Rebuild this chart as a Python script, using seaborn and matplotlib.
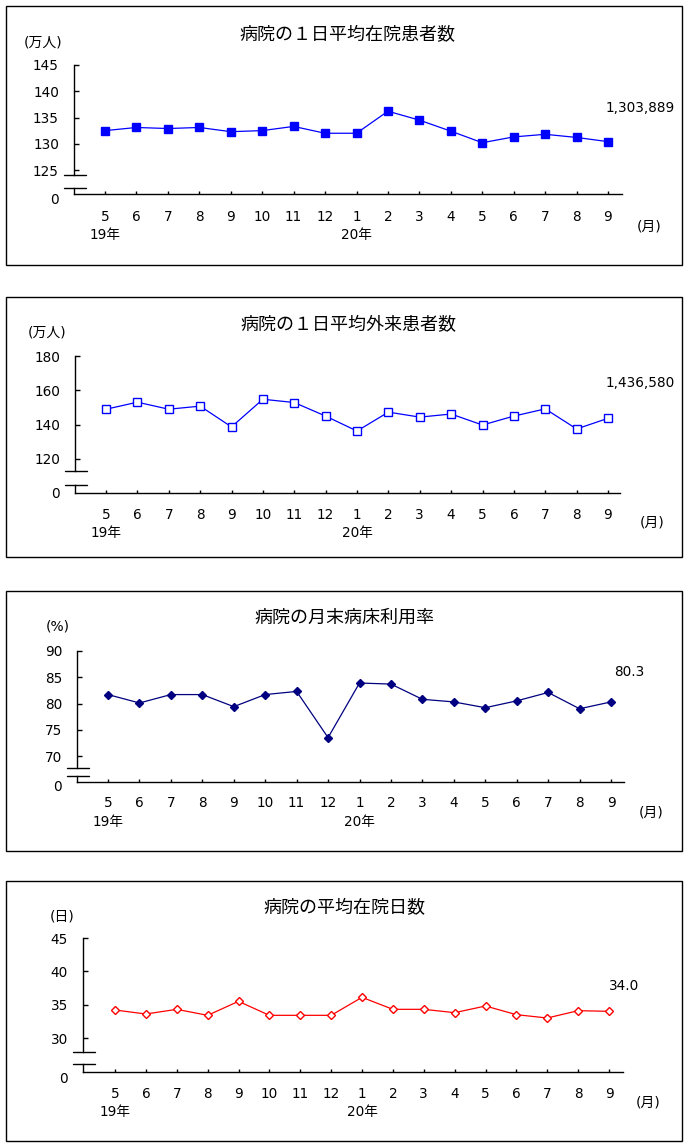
import numpy as np
import pandas as pd
import matplotlib
matplotlib.use("Agg")
import matplotlib.pyplot as plt
import matplotlib.transforms as mtrans
from matplotlib.patches import Rectangle
from matplotlib.lines import Line2D
import seaborn as sns

# ---------------- data ----------------
months = ["5", "6", "7", "8", "9", "10", "11", "12", "1", "2", "3", "4", "5", "6", "7", "8", "9"]
year_labels = ["19年", "20年"]
year_positions = [0, 8]

inpatients = [132.5, 133.1, 132.9, 133.1, 132.3, 132.5, 133.3, 132.0, 132.0,
              136.2, 134.5, 132.4, 130.2, 131.3, 131.8, 131.2, 130.4]
outpatients = [149.0, 153.1, 149.0, 150.8, 138.7, 154.8, 152.9, 145.0, 136.3,
               147.3, 144.4, 146.2, 139.8, 145.0, 149.2, 137.5, 143.7]
bed_rate = [81.7, 80.1, 81.7, 81.7, 79.4, 81.7, 82.3, 73.5, 83.9,
            83.7, 80.8, 80.3, 79.2, 80.5, 82.1, 79.0, 80.3]
stay_days = [34.2, 33.6, 34.3, 33.4, 35.5, 33.4, 33.4, 33.4, 36.1,
             34.3, 34.3, 33.8, 34.8, 33.5, 33.0, 34.1, 34.0]

titles = ["病院の１日平均在院患者数", "病院の１日平均外来患者数", "病院の月末病床利用率", "病院の平均在院日数"]
units = ["(万人)", "(万人)", "(%)", "(日)"]
last_labels = ["1,303,889", "1,436,580", "80.3", "34.0"]
yticks_list = [[125, 130, 135, 140, 145], [120, 140, 160, 180], [70, 75, 80, 85, 90], [30, 35, 40, 45]]
series = [inpatients, outpatients, bed_rate, stay_days]
month_unit = "(月)"

# ---------------- style / layout (pixels) ----------------
sns.set_style("white")
plt.rcParams["font.family"] = ["DejaVu Sans", "Noto Sans CJK JP"]
JP = ["Noto Sans CJK JP", "DejaVu Sans"]

W, H = 700, 1147
fig = plt.figure(figsize=(W / 100, H / 100), dpi=100)


def fx(px):
    return px / W


def fy(py):
    return 1 - py / H


PT = 0.72  # points per pixel

styles = [
    dict(marker="s", color="#0000FF", mfc="#0000FF", mec="#0000FF", ms=5.2),
    dict(marker="s", color="#0000FF", mfc="white", mec="#0000FF", ms=5.2),
    dict(marker="D", color="#000080", mfc="#000080", mec="#000080", ms=4.2),
    dict(marker="D", color="#FF0000", mfc="white", mec="#FF0000", ms=4.2),
]

layout = [
    dict(box=(6, 6, 682, 265), ax_x=74, ax_r=622, first=105, last=608,
         y_top=65, y_low=170, y_bu=175, y_bl=188, y_ax=194, zdy=6,
         title=(347, 35), unit=(43, 43), val=(640, 108), month_y=217, year_y=235, mu=(649, 227)),
    dict(box=(6, 297, 682, 557), ax_x=75, ax_r=620, first=106, last=608,
         y_top=356, y_low=459, y_bu=471, y_bl=485, y_ax=493, zdy=1,
         title=(348, 325), unit=(47, 333), val=(640, 383), month_y=515, year_y=533, mu=(652, 523)),
    dict(box=(6, 591, 682, 851), ax_x=77, ax_r=624, first=108, last=611,
         y_top=651, y_low=756, y_bu=768, y_bl=776, y_ax=782, zdy=5,
         title=(344, 618), unit=(58, 626), val=(629, 672), month_y=803, year_y=822, mu=(651, 813)),
    dict(box=(6, 881, 682, 1141), ax_x=83, ax_r=623, first=115, last=609,
         y_top=938, y_low=1038, y_bu=1052, y_bl=1064, y_ax=1072, zdy=7,
         title=(344, 908), unit=(62, 917), val=(624, 986), month_y=1094, year_y=1112, mu=(648, 1103)),
]

n = len(months)
xpos = np.arange(n)
label_pad_px = 15
NUM_FS = 9.8

for i in range(4):
    L = layout[i]
    st = styles[i]
    ticks = yticks_list[i]
    vals = series[i]

    # box
    x0, y0, x1, y1 = L["box"]
    fig.patches.append(Rectangle((fx(x0), fy(y1)), fx(x1) - fx(x0), fy(y0) - fy(y1),
                                 transform=fig.transFigure, fill=False, ec="black", lw=1.0))

    dx = (L["last"] - L["first"]) / (n - 1)
    xlim = (-(L["first"] - L["ax_x"]) / dx, (n - 1) + (L["ax_r"] - L["last"]) / dx)

    # upper axes (data)
    v_top, v_low = ticks[-1], ticks[0]
    ppu = (L["y_low"] - L["y_top"]) / (v_top - v_low)
    v_break = v_low - (L["y_bu"] - L["y_low"]) / ppu
    ax = fig.add_axes([fx(L["ax_x"]), fy(L["y_bu"]), fx(L["ax_r"]) - fx(L["ax_x"]), fy(L["y_top"]) - fy(L["y_bu"])])
    ax.set_facecolor("none")
    df = pd.DataFrame({"x": xpos, "y": vals})
    sns.lineplot(data=df, x="x", y="y", ax=ax, color=st["color"], lw=0.9,
                 marker=st["marker"], markersize=st["ms"], markerfacecolor=st["mfc"],
                 markeredgecolor=st["mec"], markeredgewidth=1.0, clip_on=False)
    ax.set_xlim(*xlim)
    ax.set_ylim(v_break, v_top)
    ax.set_yticks(ticks)
    ax.set_yticklabels([str(t) for t in ticks])
    ax.set_xticks([])
    ax.set_xlabel("")
    ax.set_ylabel("")
    for s in ["top", "right", "bottom"]:
        ax.spines[s].set_visible(False)
    ax.spines["left"].set_color("black")
    ax.spines["left"].set_linewidth(1.0)
    ax.tick_params(axis="y", direction="in", length=5 * PT, width=1.0, color="black",
                   pad=label_pad_px * PT, labelsize=NUM_FS, labelcolor="black", left=True)

    # lower axes (zero segment)
    axl = fig.add_axes([fx(L["ax_x"]), fy(L["y_ax"]), fx(L["ax_r"]) - fx(L["ax_x"]), fy(L["y_bl"]) - fy(L["y_ax"])])
    axl.set_facecolor("none")
    axl.set_xlim(*xlim)
    axl.set_ylim(0, 1)
    axl.set_yticks([])
    axl.set_xticks(xpos)
    axl.set_xticklabels(months)
    for s in ["top", "right"]:
        axl.spines[s].set_visible(False)
    for s in ["left", "bottom"]:
        axl.spines[s].set_color("black")
        axl.spines[s].set_linewidth(1.0)
    month_pad = (L["month_y"] - L["y_ax"] - 7)
    axl.tick_params(axis="x", direction="in", length=3.3 * PT, width=1.0, color="black",
                    pad=month_pad * PT, labelsize=NUM_FS, labelcolor="black", bottom=True)
    axl.annotate("0", xy=(0, 0), xycoords=("axes fraction", "data"),
                 xytext=(-label_pad_px * PT, -L["zdy"] * PT), textcoords="offset points",
                 ha="right", va="center", fontsize=NUM_FS, color="black")

    # year labels
    btf = mtrans.blended_transform_factory(axl.transData, fig.transFigure)
    for yl, yp in zip(year_labels, year_positions):
        axl.text(yp, fy(L["year_y"]), yl, transform=btf, ha="center", va="center",
                 fontsize=NUM_FS, color="black")

    # break marks
    for yb in (L["y_bu"], L["y_bl"]):
        fig.lines.append(Line2D([fx(L["ax_x"] - 10), fx(L["ax_x"] + 12)], [fy(yb), fy(yb)],
                                transform=fig.transFigure, color="black", lw=1.0))

    # texts
    fig.text(fx(L["title"][0]), fy(L["title"][1]), titles[i], ha="center", va="center",
             fontsize=13, color="black", family=JP)
    fig.text(fx(L["unit"][0]), fy(L["unit"][1]), units[i], ha="center", va="center",
             fontsize=10, color="black")
    fig.text(fx(L["val"][0]), fy(L["val"][1]), last_labels[i], ha="center", va="center",
             fontsize=NUM_FS, color="black")
    fig.text(fx(L["mu"][0]), fy(L["mu"][1]), month_unit, ha="center", va="center",
             fontsize=10, color="black")

fig.savefig("out.png", dpi=100, facecolor="white")
